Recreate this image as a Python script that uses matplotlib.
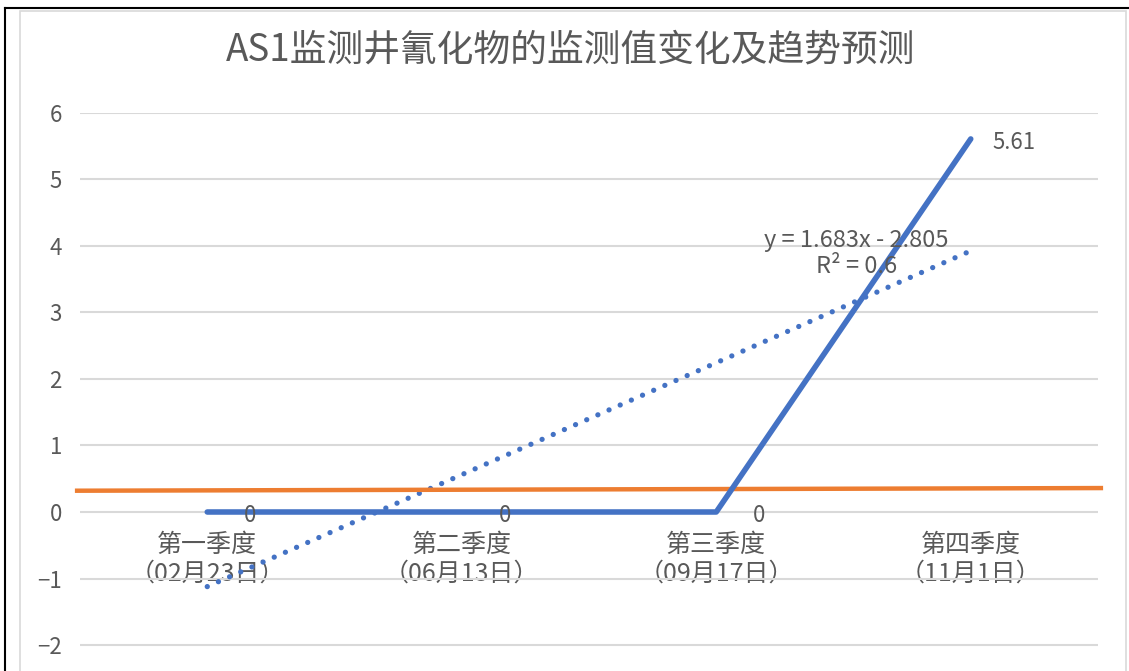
import numpy as np
import matplotlib
matplotlib.use("Agg")
import matplotlib.pyplot as plt
from matplotlib.lines import Line2D
from matplotlib.patches import Rectangle

plt.rcParams['font.family'] = ['Noto Sans CJK SC', 'DejaVu Sans']

# data
title = "AS1监测井氰化物的监测值变化及趋势预测"
categories = ["第一季度\n（02月23日）", "第二季度\n（06月13日）",
              "第三季度\n（09月17日）", "第四季度\n（11月1日）"]
values = [0, 0, 0, 5.61]
# orange reference line (ends)
ref_x = [0.48, 4.52]
ref_y = [0.32, 0.36]

blue = "#4472C4"
orange = "#ED7D31"
grey_text = "#595959"
grid_col = "#D9D9D9"

fig = plt.figure(figsize=(11.29, 6.71), dpi=100)

# outer screenshot frame: black on top/left, light grey chart border
fig.add_artist(Line2D([4.5 / 1129, 4.5 / 1129], [0, 1 - 8 / 671], color="black", lw=1.5))
fig.add_artist(Line2D([4.5 / 1129, 1], [1 - 8 / 671, 1 - 8 / 671], color="black", lw=1.5))
fig.add_artist(Rectangle((20 / 1129, -0.05), 1106 / 1129, 1.05 - 11 / 671,
                         fill=False, edgecolor="#D9D9D9", lw=1.2))

# plot area: y=6 at 113px, y=-3 at ~711px (cut off by the screenshot)
ax = fig.add_axes([80 / 1129, 1 - 711.5 / 671, 1018 / 1129, 598.5 / 671])
ax.set_xlim(0.5, 4.5)
ax.set_ylim(-3, 6)

x = np.arange(1, len(values) + 1)

ax.set_yticks(range(-2, 7))
ax.yaxis.grid(True, color=grid_col, lw=1.5)
ax.set_axisbelow(True)
for s in ax.spines.values():
    s.set_visible(False)
ax.spines['bottom'].set_position(('data', 0))
ax.tick_params(axis='y', length=0, pad=13, labelsize=16, labelcolor=grey_text)
ax.set_xticks(x)
ax.set_xticklabels(categories)
ax.tick_params(axis='x', length=0, pad=14, labelsize=18, labelcolor=grey_text)
for lab in ax.get_xticklabels():
    lab.set_linespacing(1.15)

# linear trend line
slope, intercept = np.polyfit(x, values, 1)
fit = slope * x + intercept
r2 = 1 - np.sum((np.array(values) - fit) ** 2) / np.sum((np.array(values) - np.mean(values)) ** 2)
ax.plot(x, fit, color=blue, lw=3.8, linestyle=(0, (0.01, 2.3)),
        dash_capstyle='round', zorder=3)

ax.plot(ref_x, ref_y, color=orange, lw=3.2, solid_capstyle='butt', clip_on=False, zorder=4)
ax.plot(x, values, color=blue, lw=4, solid_capstyle='round', solid_joinstyle='round', zorder=5)

for xi, v in zip(x, values):
    ax.annotate(f"{v:g}", (xi, v), xytext=(31, -1), textcoords='offset points',
                ha='center', va='center_baseline', fontsize=16, color=grey_text, zorder=6)

ax.text(3.55, 3.89, f"y = {slope:.3f}x - {abs(intercept):.3f}\nR² = {r2:.1f}",
        ha='center', va='center', fontsize=17, color=grey_text, linespacing=1.15, zorder=6)

fig.text(571 / 1129, 1 - 50 / 671, title, ha='center', va='center',
         fontsize=26.5, color=grey_text)

fig.savefig("out.png", dpi=100)
